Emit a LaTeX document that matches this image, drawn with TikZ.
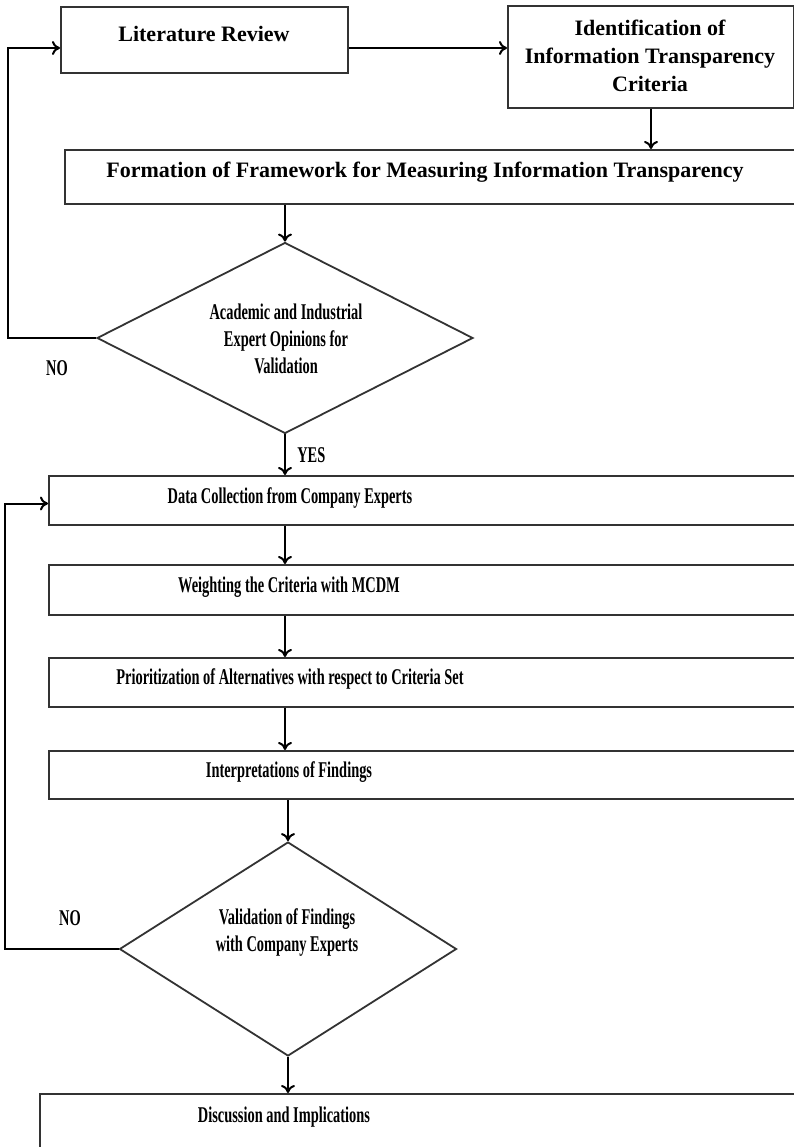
\documentclass[tikz,border=0pt]{standalone}
\usepackage{fontspec}
\setmainfont{Liberation Serif}
\newfontfamily\narrowfont[FakeStretch=0.64]{Liberation Serif}
\usetikzlibrary{shapes.geometric,arrows.meta}

\tikzset{
  box/.style={draw=black!80, line width=2pt, anchor=north west, inner sep=0pt},
  decision/.style={shape=diamond, draw=black!80, line width=1.8pt, inner sep=0pt},
  txt/.style={font=\bfseries\fontsize{22}{28}\selectfont, align=center},
  ntxt/.style={font=\narrowfont\bfseries\fontsize{22.5}{27}\selectfont, align=center},
  flow/.style={line width=2pt, -{To[length=8pt,width=14pt]}},
}

\begin{document}
\begin{tikzpicture}[x=1pt,y=-1pt]
\useasboundingbox (0,0) rectangle (794,1147);
\clip (0,0) rectangle (794,1147);

\node[box, minimum width=287pt, minimum height=66pt] (lr) at (60,6) {};
\node[box, minimum width=286pt, minimum height=102pt] (it) at (507,5) {};
\node[box, minimum width=800pt, minimum height=54pt] (fm) at (64,149) {};
\node[decision, minimum width=376pt, minimum height=191pt] (d1) at (285,338) {};
\node[box, minimum width=800pt, minimum height=49pt] (dc) at (48,475) {};
\node[box, minimum width=800pt, minimum height=50pt] (wt) at (48,564) {};
\node[box, minimum width=800pt, minimum height=49pt] (pr) at (48,657) {};
\node[box, minimum width=800pt, minimum height=48pt] (ip) at (48,750) {};
\node[decision, minimum width=337pt, minimum height=214pt] (d2) at (288,949) {};
\node[box, minimum width=800pt, minimum height=100pt] (di) at (39,1093) {};

\node[txt] (lrt) at (204,34) {Literature Review};
\node[txt] (itt) at (650,56) {Identification of\\Information Transparency\\Criteria};
\node[txt] (fmt) at (425,172) {Formation of Framework for Measuring Information Transparency};
\node[ntxt] (d1t) at (286,339) {Academic and Industrial\\Expert Opinions for\\Validation};
\node[ntxt] (no1) at (57,368) {NO};
\node[ntxt] (dct) at (290,498) {Data Collection from Company Experts};
\node[ntxt] (wtt) at (289,587) {Weighting the Criteria with MCDM};
\node[ntxt] (prt) at (290,679) {Prioritization of Alternatives with respect to Criteria Set};
\node[ntxt] (ipt) at (289,772) {Interpretations of Findings};
\node[ntxt] (d2t) at (287,932) {Validation of Findings\\with Company Experts};
\node[ntxt] (no2) at (70,918) {NO};
\node[ntxt] (dit) at (284,1117) {Discussion and Implications};

\coordinate (k1) at (8,338);
\coordinate (k2) at (5,949);

\draw[flow] ([yshift=-8pt]lr.east) -- ([yshift=-8pt]lr.east -| it.west);
\draw[flow] (it.south) -- (it.south |- fm.north);
\draw[flow] (fm.south -| d1.north) -- (d1.north);
\draw[flow] (d1.south) -- (d1.south |- dc.north) node[ntxt, midway, right, xshift=8pt] (yes) {YES};
\foreach \a/\b in {dc/wt, wt/pr, pr/ip}
  \draw[flow] (\a.south -| d1.south) -- (\b.north -| d1.south);
\draw[flow] (ip.south -| d2.north) -- (d2.north);
\draw[flow] (d2.south) -- (d2.south |- di.north);

\draw[flow] (d1.west) -- (k1) |- ([yshift=-8pt]lr.west);
\draw[flow] (d2.west) -- (k2) |- ([yshift=-3pt]dc.west);

\end{tikzpicture}
\end{document}
